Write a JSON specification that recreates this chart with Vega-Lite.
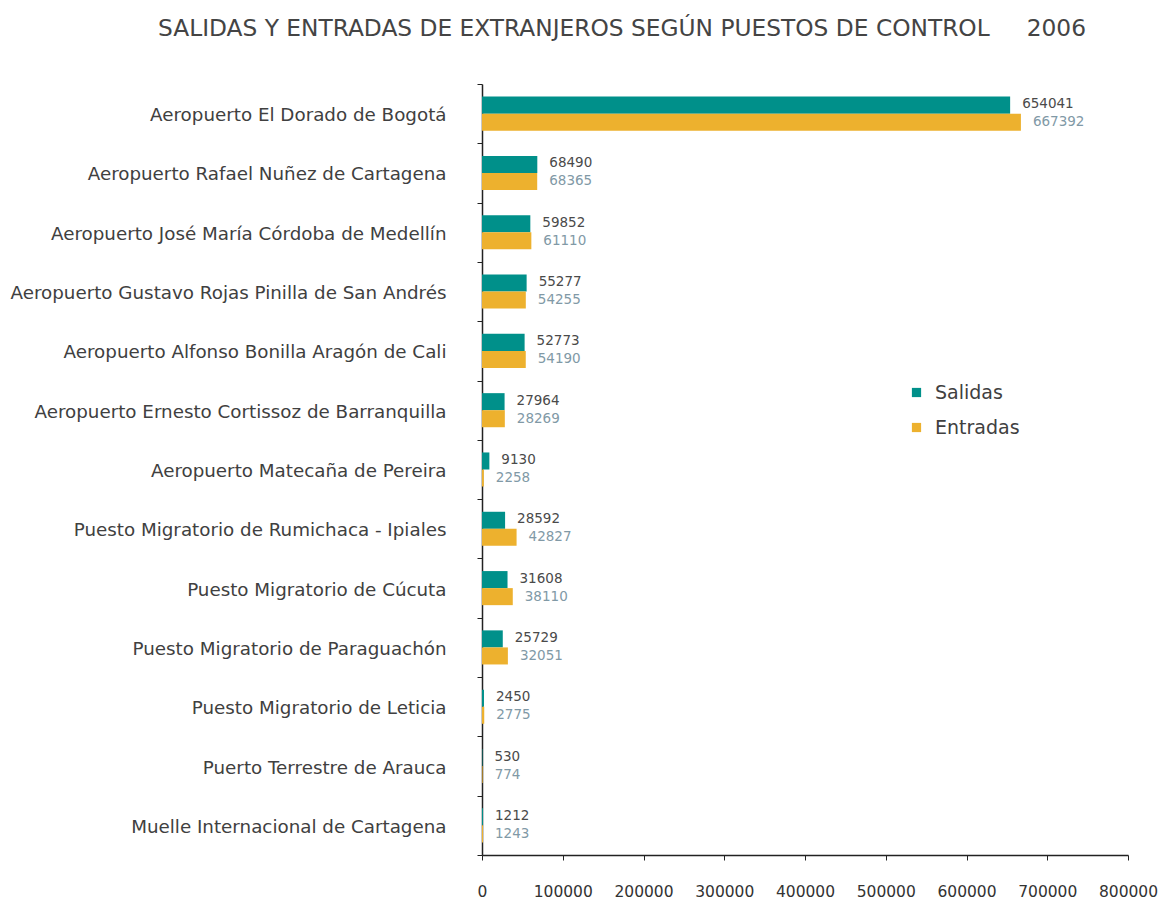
{
  "$schema": "https://vega.github.io/schema/vega-lite/v6.json",
  "width": 646,
  "height": 771,
  "autosize": {"type": "none"},
  "padding": {"left": 482, "top": 84, "right": 33, "bottom": 44},
  "background": "white",
  "title": {
    "text": "SALIDAS Y ENTRADAS DE EXTRANJEROS SEGÚN PUESTOS DE CONTROL\u00a0\u00a0\u00a0\u00a0\u00a02006",
    "font": "DejaVu Sans",
    "fontSize": 23.3,
    "fontWeight": "normal",
    "color": "#444444",
    "anchor": "start",
    "frame": "group",
    "dx": -324,
    "offset": 33
  },
  "data": {
    "values": [
      {"puesto": "Aeropuerto El Dorado de Bogotá", "serie": "Salidas", "valor": 654041},
      {"puesto": "Aeropuerto El Dorado de Bogotá", "serie": "Entradas", "valor": 667392},
      {"puesto": "Aeropuerto Rafael Nuñez de Cartagena", "serie": "Salidas", "valor": 68490},
      {"puesto": "Aeropuerto Rafael Nuñez de Cartagena", "serie": "Entradas", "valor": 68365},
      {"puesto": "Aeropuerto José María Córdoba de Medellín", "serie": "Salidas", "valor": 59852},
      {"puesto": "Aeropuerto José María Córdoba de Medellín", "serie": "Entradas", "valor": 61110},
      {"puesto": "Aeropuerto Gustavo Rojas Pinilla de San Andrés", "serie": "Salidas", "valor": 55277},
      {"puesto": "Aeropuerto Gustavo Rojas Pinilla de San Andrés", "serie": "Entradas", "valor": 54255},
      {"puesto": "Aeropuerto Alfonso Bonilla Aragón de Cali", "serie": "Salidas", "valor": 52773},
      {"puesto": "Aeropuerto Alfonso Bonilla Aragón de Cali", "serie": "Entradas", "valor": 54190},
      {"puesto": "Aeropuerto Ernesto Cortissoz de Barranquilla", "serie": "Salidas", "valor": 27964},
      {"puesto": "Aeropuerto Ernesto Cortissoz de Barranquilla", "serie": "Entradas", "valor": 28269},
      {"puesto": "Aeropuerto Matecaña de Pereira", "serie": "Salidas", "valor": 9130},
      {"puesto": "Aeropuerto Matecaña de Pereira", "serie": "Entradas", "valor": 2258},
      {"puesto": "Puesto Migratorio de Rumichaca - Ipiales", "serie": "Salidas", "valor": 28592},
      {"puesto": "Puesto Migratorio de Rumichaca - Ipiales", "serie": "Entradas", "valor": 42827},
      {"puesto": "Puesto Migratorio de Cúcuta", "serie": "Salidas", "valor": 31608},
      {"puesto": "Puesto Migratorio de Cúcuta", "serie": "Entradas", "valor": 38110},
      {"puesto": "Puesto Migratorio de Paraguachón", "serie": "Salidas", "valor": 25729},
      {"puesto": "Puesto Migratorio de Paraguachón", "serie": "Entradas", "valor": 32051},
      {"puesto": "Puesto Migratorio de Leticia", "serie": "Salidas", "valor": 2450},
      {"puesto": "Puesto Migratorio de Leticia", "serie": "Entradas", "valor": 2775},
      {"puesto": "Puerto Terrestre de Arauca", "serie": "Salidas", "valor": 530},
      {"puesto": "Puerto Terrestre de Arauca", "serie": "Entradas", "valor": 774},
      {"puesto": "Muelle Internacional de Cartagena", "serie": "Salidas", "valor": 1212},
      {"puesto": "Muelle Internacional de Cartagena", "serie": "Entradas", "valor": 1243}
    ]
  },
  "encoding": {
    "y": {
      "field": "puesto",
      "type": "nominal",
      "sort": null,
      "scale": {"paddingInner": 0, "paddingOuter": 0},
      "axis": {
        "title": null,
        "labelFont": "DejaVu Sans",
        "labelFontSize": 18.3,
        "labelColor": "#404040",
        "labelPadding": 31,
        "labelOffset": 2,
        "labelLimit": 600,
        "tickBand": "extent",
        "tickSize": 5,
        "tickColor": "#222222",
        "domainColor": "#222222",
        "domainWidth": 1.5,
        "grid": false
      }
    },
    "yOffset": {
      "field": "serie",
      "type": "nominal",
      "scale": {"domain": ["Salidas", "Entradas"], "paddingInner": 0, "paddingOuter": 0.74}
    },
    "x": {
      "field": "valor",
      "type": "quantitative",
      "scale": {"domain": [0, 800000], "nice": false},
      "axis": {
        "title": null,
        "values": [0, 100000, 200000, 300000, 400000, 500000, 600000, 700000, 800000],
        "format": "d",
        "labelFont": "DejaVu Sans",
        "labelFontSize": 15.5,
        "labelColor": "#333333",
        "labelPadding": 24,
        "labelOverlap": false,
        "labelBound": false,
        "labelFlush": false,
        "tickSize": 5,
        "tickColor": "#222222",
        "domainColor": "#222222",
        "domainWidth": 1.5,
        "grid": false
      }
    }
  },
  "layer": [
    {
      "mark": {"type": "bar"},
      "encoding": {
        "color": {
          "field": "serie",
          "type": "nominal",
          "scale": {"domain": ["Salidas", "Entradas"], "range": ["#00908A", "#EDB12E"]},
          "legend": {
            "title": null,
            "orient": "none",
            "legendX": 425,
            "legendY": 299,
            "symbolType": "square",
            "symbolSize": 85,
            "symbolStrokeWidth": 0,
            "labelFont": "DejaVu Sans",
            "labelFontSize": 19,
            "labelColor": "#404040",
            "labelOffset": 9,
            "rowPadding": 15,
            "padding": 0
          }
        }
      }
    },
    {
      "transform": [{"filter": "datum.serie == 'Salidas'"}],
      "mark": {"type": "text", "align": "left", "baseline": "middle", "dx": 12, "dy": -1, "font": "DejaVu Sans", "fontSize": 13.5, "color": "#4a4a4a"},
      "encoding": {"text": {"field": "valor", "type": "quantitative", "format": "d"}}
    },
    {
      "transform": [{"filter": "datum.serie == 'Entradas'"}],
      "mark": {"type": "text", "align": "left", "baseline": "middle", "dx": 12, "dy": 0, "font": "DejaVu Sans", "fontSize": 13.5, "color": "#8199A6"},
      "encoding": {"text": {"field": "valor", "type": "quantitative", "format": "d"}}
    }
  ],
  "config": {"view": {"stroke": null}}
}
